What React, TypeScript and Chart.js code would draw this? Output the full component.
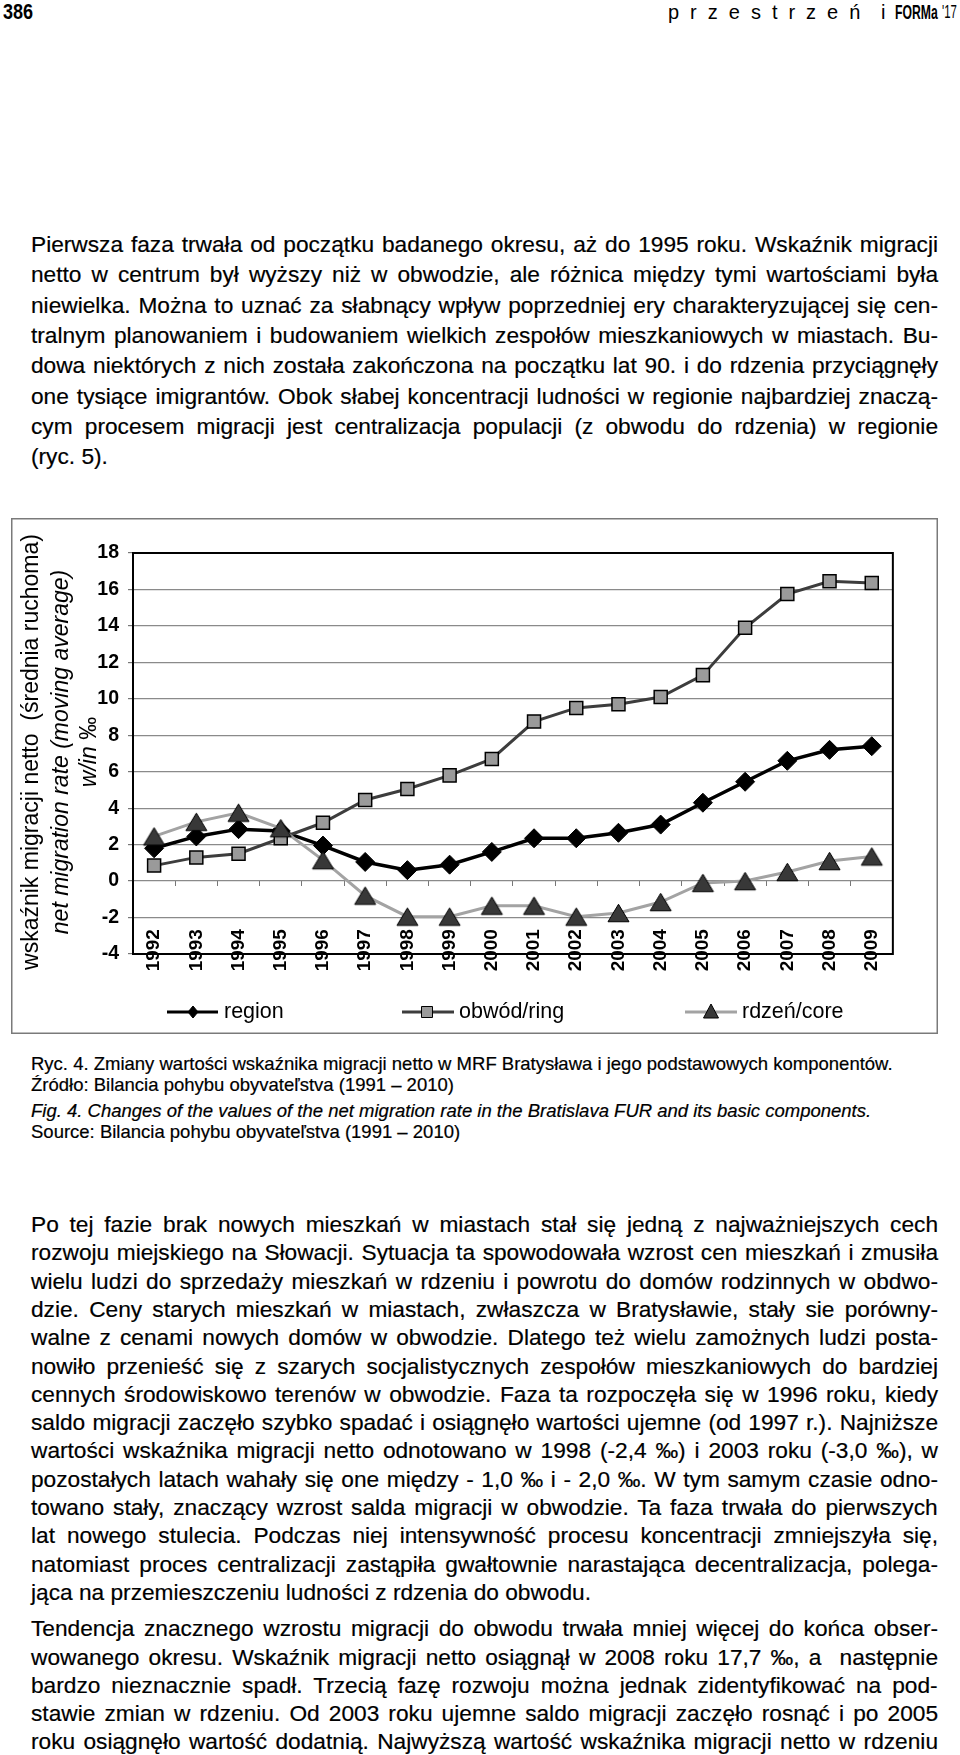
import React, { useEffect, useRef } from 'react';
import { Chart, registerables } from 'chart.js';

Chart.register(...registerables);

// ---------------- data ----------------
const YEARS = ['1992', '1993', '1994', '1995', '1996', '1997', '1998', '1999', '2000', '2001', '2002', '2003', '2004', '2005', '2006', '2007', '2008', '2009'];
const REGION = [1.8, 2.45, 2.85, 2.75, 1.95, 1.05, 0.6, 0.9, 1.6, 2.35, 2.35, 2.65, 3.1, 4.3, 5.45, 6.6, 7.2, 7.4];
const RING = [0.85, 1.3, 1.5, 2.35, 3.2, 4.45, 5.05, 5.8, 6.7, 8.75, 9.5, 9.7, 10.1, 11.3, 13.9, 15.75, 16.45, 16.35];
const CORE = [2.45, 3.25, 3.75, 2.9, 1.15, -0.8, -1.95, -1.95, -1.35, -1.35, -1.95, -1.75, -1.15, -0.1, 0.0, 0.5, 1.1, 1.35];
const SERIES_LABELS = ['region', 'obwód/ring', 'rdzeń/core'];
const Y_MIN = -4;
const Y_MAX = 18;
const Y_STEP = 2;
const Y_TITLE_1 = 'wskaźnik migracji netto  (średnia ruchoma)';
const Y_TITLE_2 = 'net migration rate (moving average)';
const Y_TITLE_3A = 'w/in';
const Y_TITLE_3B = ' ‰';

const PARA_TOP = [
  'Pierwsza faza trwała od początku badanego okresu, aż do 1995 roku. Wskaźnik migracji',
  'netto w centrum był wyższy niż w obwodzie, ale różnica między tymi wartościami była',
  'niewielka. Można to uznać za słabnący wpływ poprzedniej ery charakteryzującej się cen-',
  'tralnym planowaniem i budowaniem wielkich zespołów mieszkaniowych w miastach. Bu-',
  'dowa niektórych z nich została zakończona na początku lat 90. i do rdzenia przyciągnęły',
  'one tysiące imigrantów. Obok słabej koncentracji ludności w regionie najbardziej znaczą-',
  'cym procesem migracji jest centralizacja populacji (z obwodu do rdzenia) w regionie',
  '(ryc. 5).',
];
const PARA_B1 = [
  'Po tej fazie brak nowych mieszkań w miastach stał się jedną z najważniejszych cech',
  'rozwoju miejskiego na Słowacji. Sytuacja ta spowodowała wzrost cen mieszkań i zmusiła',
  'wielu ludzi do sprzedaży mieszkań w rdzeniu i powrotu do domów rodzinnych w obdwo-',
  'dzie. Ceny starych mieszkań w miastach, zwłaszcza w Bratysławie, stały sie porówny-',
  'walne z cenami nowych domów w obwodzie. Dlatego też wielu zamożnych ludzi posta-',
  'nowiło przenieść się z szarych socjalistycznych zespołów mieszkaniowych do bardziej',
  'cennych środowiskowo terenów w obwodzie. Faza ta rozpoczęła się w 1996 roku, kiedy',
  'saldo migracji zaczęło szybko spadać i osiągnęło wartości ujemne (od 1997 r.). Najniższe',
  'wartości wskaźnika migracji netto odnotowano w 1998 (-2,4 ‰) i 2003 roku (-3,0 ‰), w',
  'pozostałych latach wahały się one między - 1,0 ‰ i - 2,0 ‰. W tym samym czasie odno-',
  'towano stały, znaczący wzrost salda migracji w obwodzie. Ta faza trwała do pierwszych',
  'lat nowego stulecia. Podczas niej intensywność procesu koncentracji zmniejszyła się,',
  'natomiast proces centralizacji zastąpiła gwałtownie narastająca decentralizacja, polega-',
  'jąca na przemieszczeniu ludności z rdzenia do obwodu.',
];
const PARA_B2 = [
  'Tendencja znacznego wzrostu migracji do obwodu trwała mniej więcej do końca obser-',
  'wowanego okresu. Wskaźnik migracji netto osiągnął w 2008 roku 17,7 ‰, a  następnie',
  'bardzo nieznacznie spadł. Trzecią fazę rozwoju można jednak zidentyfikować na pod-',
  'stawie zmian w rdzeniu. Od 2003 roku ujemne saldo migracji zaczęło rosnąć i po 2005',
  'roku osiągnęło wartość dodatnią. Najwyższą wartość wskaźnika migracji netto w rdzeniu',
];
const CAPTIONS = [
  'Ryc. 4. Zmiany wartości wskaźnika migracji netto w MRF Bratysława i jego podstawowych komponentów.',
  'Źródło: Bilancia pohybu obyvateľstva (1991 – 2010)',
  'Fig. 4. Changes of the values of the net migration rate in the Bratislava FUR and its basic components.',
  'Source: Bilancia pohybu obyvateľstva (1991 – 2010)',
];

// ---------------- helpers ----------------
const FONT = '"Liberation Sans", Arial, Helvetica, sans-serif';

let mctx: CanvasRenderingContext2D | null = null;
function measure(text: string, font: string): number {
  if (!mctx) mctx = document.createElement('canvas').getContext('2d');
  mctx!.font = font;
  return mctx!.measureText(text).width;
}

function TextLine(props: { text: string; cy: number; justify: boolean; size: number; italic?: boolean; left?: number; width?: number; lineH?: number }) {
  const { text, cy, justify, size, italic } = props;
  const left = props.left ?? 31;
  const width = props.width ?? 907;
  const lineH = props.lineH ?? 26;
  const fontStr = `${italic ? 'italic ' : ''}${size}px ${FONT}`;
  let ws = 0;
  if (justify) {
    const spaces = (text.match(/ /g) || []).length;
    const w = measure(text, fontStr);
    if (spaces > 0) ws = (width - w) / spaces;
  }
  return (
    <div
      style={{
        position: 'absolute',
        left,
        top: cy - lineH / 2,
        height: lineH,
        lineHeight: lineH + 'px',
        fontFamily: FONT,
        fontSize: size,
        fontStyle: italic ? 'italic' : 'normal',
        whiteSpace: 'pre',
        wordSpacing: ws + 'px',
        color: '#000',
        WebkitTextStroke: '0.2px #000',
      }}
    >
      {text}
    </div>
  );
}

function makeTriangle(w: number, h: number, fill: string, stroke: string, lw: number): HTMLCanvasElement {
  const pad = 2;
  const c = document.createElement('canvas');
  c.width = Math.round(w + pad * 2);
  c.height = Math.round(h + pad * 2);
  const ctx = c.getContext('2d')!;
  const cx = c.width / 2;
  const top = (c.height - h) / 2;
  ctx.beginPath();
  ctx.moveTo(cx, top);
  ctx.lineTo(cx + w / 2, top + h);
  ctx.lineTo(cx - w / 2, top + h);
  ctx.closePath();
  ctx.fillStyle = fill;
  ctx.fill();
  ctx.lineWidth = lw;
  ctx.strokeStyle = stroke;
  ctx.stroke();
  return c;
}

// ---------------- chart ----------------
const CANVAS_W = 927;
const CANVAS_H = 516;

function MigrationChart() {
  const ref = useRef<HTMLCanvasElement>(null);

  useEffect(() => {
    const tri = makeTriangle(21, 17.5, '#383838', '#000', 1);

    const bgPlugin = {
      id: 'bgFrame',
      beforeDraw(chart: any) {
        const { ctx, width, height } = chart;
        ctx.save();
        ctx.fillStyle = '#fff';
        ctx.fillRect(0, 0, width, height);
        ctx.strokeStyle = '#7a7a7a';
        ctx.lineWidth = 1.5;
        ctx.strokeRect(0.75, 0.75, width - 1.5, height - 1.5);
        ctx.restore();
      },
      beforeDatasetsDraw(chart: any) {
        const { ctx, chartArea: a } = chart;
        ctx.save();
        ctx.strokeStyle = '#000';
        ctx.lineWidth = 2;
        ctx.strokeRect(a.left, a.top, a.right - a.left, a.bottom - a.top);
        ctx.restore();
      },
    };

    const decoPlugin = {
      id: 'deco',
      afterDraw(chart: any) {
        const { ctx } = chart;
        const cy = 234;
        const drawRot = (x: number, parts: { t: string; f: string }[]) => {
          ctx.save();
          ctx.fillStyle = '#000';
          ctx.textBaseline = 'middle';
          ctx.textAlign = 'left';
          ctx.translate(x, cy);
          ctx.rotate(-Math.PI / 2);
          let total = 0;
          const ws = parts.map((p) => {
            ctx.font = p.f;
            const w = ctx.measureText(p.t).width;
            total += w;
            return w;
          });
          let pos = -total / 2;
          parts.forEach((p, i) => {
            ctx.font = p.f;
            ctx.fillText(p.t, pos, 0);
            pos += ws[i];
          });
          ctx.restore();
        };
        drawRot(21, [{ t: Y_TITLE_1, f: `23px ${FONT}` }]);
        drawRot(51, [{ t: Y_TITLE_2, f: `italic 23px ${FONT}` }]);
        drawRot(79, [
          { t: Y_TITLE_3A, f: `italic 23px ${FONT}` },
          { t: Y_TITLE_3B, f: `23px ${FONT}` },
        ]);

        // legend
        const ly = 494;
        const items = [
          { x1: 156, x2: 207, mx: 182, tx: 213 },
          { x1: 391, x2: 443, mx: 416, tx: 448 },
          { x1: 674, x2: 726, mx: 700, tx: 731 },
        ];
        chart.data.datasets.forEach((ds: any, i: number) => {
          const it = items[i];
          ctx.save();
          ctx.strokeStyle = ds.borderColor;
          ctx.lineWidth = 3;
          ctx.beginPath();
          ctx.moveTo(it.x1, ly);
          ctx.lineTo(it.x2, ly);
          ctx.stroke();
          ctx.fillStyle = ds.pointBackgroundColor;
          ctx.strokeStyle = '#000';
          ctx.lineWidth = 1;
          ctx.beginPath();
          if (i === 0) {
            ctx.moveTo(it.mx, ly - 6);
            ctx.lineTo(it.mx + 5, ly);
            ctx.lineTo(it.mx, ly + 6);
            ctx.lineTo(it.mx - 5, ly);
          } else if (i === 1) {
            ctx.rect(it.mx - 5.5, ly - 5.5, 11, 11);
          } else {
            ctx.moveTo(it.mx, ly - 8);
            ctx.lineTo(it.mx + 7.5, ly + 6);
            ctx.lineTo(it.mx - 7.5, ly + 6);
          }
          ctx.closePath();
          ctx.fill();
          ctx.stroke();
          ctx.fillStyle = '#000';
          ctx.font = `21.5px ${FONT}`;
          ctx.textBaseline = 'middle';
          ctx.textAlign = 'left';
          ctx.fillText(ds.label, it.tx, ly);
          ctx.restore();
        });
      },
    };

    const chart = new Chart(ref.current!, {
      type: 'line',
      data: {
        labels: YEARS,
        datasets: [
          {
            label: SERIES_LABELS[0],
            data: REGION,
            borderColor: '#000000',
            borderWidth: 3.5,
            pointStyle: 'rectRot',
            pointRadius: 9.5,
            pointBackgroundColor: '#000000',
            pointBorderColor: '#000000',
            pointBorderWidth: 1,
            tension: 0,
            order: 2,
          },
          {
            label: SERIES_LABELS[1],
            data: RING,
            borderColor: '#3d3d3d',
            borderWidth: 3,
            pointStyle: 'rect',
            pointRadius: 9.2,
            pointBackgroundColor: '#9a9a9a',
            pointBorderColor: '#000000',
            pointBorderWidth: 1.5,
            tension: 0,
            order: 1,
          },
          {
            label: SERIES_LABELS[2],
            data: CORE,
            borderColor: '#a3a3a3',
            borderWidth: 3,
            pointStyle: tri as any,
            pointRadius: 10,
            pointBackgroundColor: '#383838',
            pointBorderColor: '#000000',
            tension: 0,
            order: 0,
          },
        ],
      },
      options: {
        animation: false,
        responsive: false,
        maintainAspectRatio: false,
        devicePixelRatio: 1,
        layout: { padding: { left: 62, top: 35, right: 16, bottom: 80 } },
        plugins: {
          legend: { display: false },
          tooltip: { enabled: false },
          title: { display: false },
        },
        scales: {
          x: {
            type: 'category',
            position: { y: 0 } as any,
            offset: true,
            grid: {
              display: true,
              drawOnChartArea: false,
              drawTicks: true,
              tickLength: 5,
              offset: true,
              color: '#777',
              lineWidth: 1,
            },
            border: { display: false },
            ticks: {
              minRotation: 90,
              maxRotation: 90,
              autoSkip: false,
              padding: 43,
              color: '#000',
              font: { family: FONT, size: 19, weight: 'bold' },
            },
          },
          y: {
            type: 'linear',
            min: Y_MIN,
            max: Y_MAX,
            ticks: {
              stepSize: Y_STEP,
              padding: 9,
              color: '#000',
              font: { family: FONT, size: 19.5, weight: 'bold' },
            },
            grid: {
              color: '#8a8a8a',
              lineWidth: 1.2,
              tickLength: 5,
              tickColor: '#777',
            },
            border: { display: false },
            afterFit: (s: any) => {
              s.width = 60;
            },
          },
        },
      } as any,
      plugins: [bgPlugin, decoPlugin],
    });
    return () => chart.destroy();
  }, []);

  return (
    <canvas
      ref={ref}
      width={CANVAS_W}
      height={CANVAS_H}
      style={{ position: 'absolute', left: 11, top: 518, width: CANVAS_W, height: CANVAS_H }}
    />
  );
}

// ---------------- page ----------------
export default function App() {
  const BODY = 22.7;
  const S_TOP = 30.3;
  const topStart = 244;
  const S_BOT = 28.3;
  const b1Start = 1224;
  const b2Start = b1Start + PARA_B1.length * S_BOT + 8;
  const capRef = 18.5 * 861 / Math.max(1, measure(CAPTIONS[0], `18.5px ${FONT}`));
  const capSize = Math.round(capRef * 10) / 10;
  const capY = [1064, 1085, 1111, 1132];

  return (
    <div style={{ position: 'absolute', left: 0, top: 0, width: 960, height: 1755, overflow: 'hidden', background: '#fff', fontFamily: FONT }}>
      {/* header */}
      <div style={{ position: 'absolute', left: 3, top: 0, lineHeight: '24px', fontSize: 22, fontWeight: 'bold', transform: 'scaleX(0.82)', transformOrigin: 'left center' }}>386</div>
      <div style={{ position: 'absolute', left: 668, top: 0, lineHeight: '24px', fontSize: 20, letterSpacing: '11px' }}>przestrzeń</div>
      <div style={{ position: 'absolute', left: 881, top: 0, lineHeight: '24px', fontSize: 20 }}>i</div>
      <div style={{ position: 'absolute', left: 895, top: 0, lineHeight: '24px', fontSize: 20, fontWeight: 'bold', transform: 'scaleX(0.61)', transformOrigin: 'left center', whiteSpace: 'pre' }}>FORMa</div>
      <div style={{ position: 'absolute', left: 942, top: 0, lineHeight: '24px', fontSize: 19, transform: 'scaleX(0.6)', transformOrigin: 'left center', whiteSpace: 'pre' }}>'17</div>

      {PARA_TOP.map((t, i) => (
        <TextLine key={'t' + i} text={t} cy={topStart + i * S_TOP} justify={i < PARA_TOP.length - 1} size={BODY} />
      ))}

      <MigrationChart />

      {CAPTIONS.map((t, i) => (
        <TextLine key={'c' + i} text={t} cy={capY[i]} justify={false} size={capSize} italic={i === 2} lineH={22} />
      ))}

      {PARA_B1.map((t, i) => (
        <TextLine key={'b' + i} text={t} cy={b1Start + i * S_BOT} justify={i < PARA_B1.length - 1} size={BODY} />
      ))}
      {PARA_B2.map((t, i) => (
        <TextLine key={'d' + i} text={t} cy={b2Start + i * S_BOT} justify={true} size={BODY} />
      ))}
    </div>
  );
}
